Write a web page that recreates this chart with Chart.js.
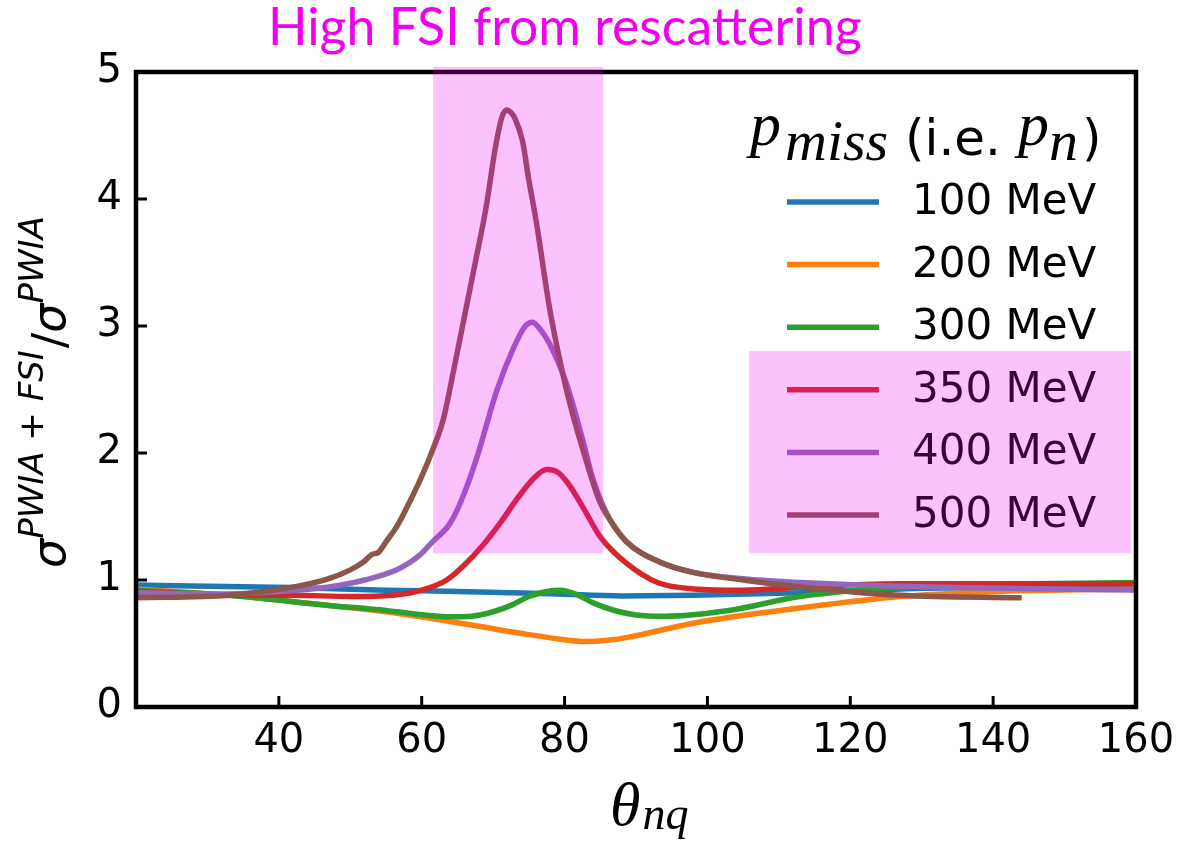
<!DOCTYPE html>
<html>
<head>
<meta charset="utf-8">
<script src="https://cdn.jsdelivr.net/npm/chart.js@4.4.1/dist/chart.umd.min.js"></script>
<style>
  html, body { margin: 0; padding: 0; background: #fff; overflow: hidden; }
  canvas { display: block; }
</style>
</head>
<body>
<canvas id="chart" width="1202" height="846"></canvas>
<script>
// p_miss series (theta_nq in degrees, ratio sigma(PWIA+FSI)/sigma(PWIA))
const labels = ['100 MeV', '200 MeV', '300 MeV', '350 MeV', '400 MeV', '500 MeV'];
const colors = ['#1f77b4', '#ff7f0e', '#2ca02c', '#d62728', '#9467bd', '#8c564b'];

const theta100 = [20, 30, 42, 55, 65, 72, 79, 88, 98, 113, 127, 145, 160];
const ratio100 = [0.96, 0.95, 0.94, 0.92, 0.91, 0.90, 0.89, 0.875, 0.88, 0.90, 0.93, 0.94, 0.94];

const theta200 = [20, 33, 47, 55, 61, 67, 75, 80, 83, 86, 89, 98, 113, 127, 141, 160];
const ratio200 = [0.93, 0.88, 0.80, 0.75, 0.70, 0.645, 0.57, 0.53, 0.515, 0.525, 0.55, 0.66, 0.78, 0.87, 0.91, 0.93];

const theta300 = [20, 33, 47, 55, 61, 64, 67, 70, 72.5, 75, 77.5, 79.5, 81.5, 84, 87, 90, 94, 103, 113, 127, 145, 160];
const ratio300 = [0.92, 0.88, 0.80, 0.76, 0.72, 0.71, 0.715, 0.75, 0.80, 0.87, 0.91, 0.92, 0.89, 0.82, 0.76, 0.725, 0.715, 0.76, 0.87, 0.94, 0.97, 0.98];

const theta350 = [20, 33, 42, 50, 56, 60, 63.5, 66, 68.5, 71, 73.5, 75.5, 77.5, 79, 80.5, 82.5, 85, 88.7, 93, 98, 105, 113, 127, 160];
const ratio350 = [0.91, 0.88, 0.88, 0.87, 0.88, 0.92, 1.0, 1.12, 1.27, 1.45, 1.65, 1.79, 1.87, 1.85, 1.76, 1.58, 1.34, 1.13, 0.98, 0.93, 0.92, 0.945, 0.97, 0.97];

const theta400 = [20, 33, 42.5, 47, 52, 56.5, 59.8, 61.5, 63.9, 65.5, 67.7, 70.5, 72.8, 74.5, 75.5, 76.5, 77.9, 80.3, 82.6, 84, 86.4, 88.7, 93.4, 98, 105, 113, 127, 160];
const ratio400 = [0.90, 0.89, 0.92, 0.945, 1.0, 1.08, 1.20, 1.30, 1.44, 1.62, 1.96, 2.49, 2.82, 3.0, 3.03, 2.98, 2.86, 2.54, 2.09, 1.79, 1.47, 1.30, 1.14, 1.06, 1.01, 0.98, 0.95, 0.92];

const theta500 = [20, 33, 42.5, 47, 50, 51.8, 53, 54, 55, 56.5, 58, 59.8, 61.5, 63, 64.5, 66, 67.5, 69, 70.3, 71.2, 71.9, 72.5, 73, 74.1, 75, 76.1, 77.9, 80.3, 82.6, 84.9, 86.4, 88.7, 93.4, 98, 105, 113, 127, 144];
const ratio500 = [0.86, 0.88, 0.95, 1.01, 1.08, 1.14, 1.20, 1.22, 1.30, 1.42, 1.58, 1.79, 2.02, 2.26, 2.66, 3.08, 3.50, 3.93, 4.40, 4.64, 4.70, 4.68, 4.64, 4.46, 4.15, 3.80, 3.14, 2.49, 2.02, 1.62, 1.47, 1.30, 1.14, 1.06, 1.0, 0.945, 0.88, 0.86];

const thetas = [theta100, theta200, theta300, theta350, theta400, theta500];
const ratios = [ratio100, ratio200, ratio300, ratio350, ratio400, ratio500];

const xTicks = [40, 60, 80, 100, 120, 140];
const yTicks = [1, 2, 3, 4];

const SANS = '"DejaVu Sans", sans-serif';
const SERIF = '"Liberation Serif", "DejaVu Serif", serif';
const PINK = 'rgba(240, 0, 245, 0.24)';

function drawRuns(ctx, x, y, runs) {
    let cx = x;
    runs.forEach(r => {
        ctx.font = r.font;
        const px = r.x !== undefined ? r.x : cx;
        ctx.fillText(r.text, px, y + (r.dy || 0));
        cx = px + ctx.measureText(r.text).width + (r.gap || 0);
    });
    return cx - x;
}

const decorations = {
    id: 'decorations',
    afterDatasetsDraw(chart) {
        const { ctx, chartArea: a, scales } = chart;
        const xs = scales.x, ys = scales.y;
        ctx.save();

        // frame
        ctx.strokeStyle = '#000';
        ctx.lineWidth = 4.5;
        ctx.strokeRect(a.left, a.top, a.right - a.left, a.bottom - a.top);

        // inward ticks
        ctx.lineWidth = 3;
        ctx.beginPath();
        xTicks.forEach(t => {
            const px = xs.getPixelForValue(t);
            ctx.moveTo(px, a.bottom);
            ctx.lineTo(px, a.bottom - 11);
        });
        yTicks.forEach(t => {
            const py = ys.getPixelForValue(t);
            ctx.moveTo(a.left, py);
            ctx.lineTo(a.left + 11, py);
        });
        ctx.stroke();

        // legend
        ctx.fillStyle = '#000';
        ctx.textBaseline = 'alphabetic';
        ctx.textAlign = 'left';
        drawRuns(ctx, 0, 0, [
            { text: 'p', font: 'italic 62px ' + SERIF, x: 750, dy: 145 },
            { text: 'miss', font: 'italic 58px ' + SERIF, x: 785, dy: 160 },
            { text: '(i.e.', font: '50px ' + SANS, x: 905, dy: 155 },
            { text: 'p', font: 'italic 62px ' + SERIF, x: 1018, dy: 145 },
            { text: 'n', font: 'italic 58px ' + SERIF, x: 1049, dy: 160 },
            { text: ')', font: '50px ' + SANS, x: 1082, dy: 155 }
        ]);
        chart.data.datasets.forEach((ds, i) => {
            const y = 202 + i * 62.6;
            ctx.strokeStyle = ds.borderColor;
            ctx.lineWidth = 5.5;
            ctx.beginPath();
            ctx.moveTo(787, y);
            ctx.lineTo(879, y);
            ctx.stroke();
            ctx.fillStyle = '#000';
            ctx.font = '42px ' + SANS;
            ctx.textBaseline = 'middle';
            ctx.fillText(ds.label, 912, y + 1);
        });

        // highlight boxes drawn over everything in the axes
        ctx.fillStyle = PINK;
        const x0 = xs.getPixelForValue(61.6), x1 = xs.getPixelForValue(85.4);
        const y0 = ys.getPixelForValue(5.04), y1 = ys.getPixelForValue(1.21);
        ctx.fillRect(x0, y0, x1 - x0, y1 - y0);
        ctx.fillRect(749, 351, 1131 - 749, 553 - 351);
        ctx.restore();
    },
    afterDraw(chart) {
        const { ctx } = chart;
        ctx.save();
        ctx.textBaseline = 'alphabetic';
        ctx.textAlign = 'left';

        // title
        ctx.fillStyle = '#f000f0';
        ctx.font = '46px Lato, sans-serif';
        const title = 'High FSI from rescattering';
        const w = ctx.measureText(title).width;
        const size = 46 * 594 / w;
        ctx.font = size.toFixed(1) + 'px Lato, sans-serif';
        ctx.fillText(title, 268, 45);

        // x axis label
        ctx.fillStyle = '#000';
        drawRuns(ctx, 610, 825, [
            { text: 'θ', font: 'italic 62px ' + SERIF, gap: 2 },
            { text: 'nq', font: 'italic 46px ' + SERIF, dy: 4 }
        ]);

        // y axis label
        ctx.translate(65, 568);
        ctx.rotate(-Math.PI / 2);
        drawRuns(ctx, 0, 0, [
            { text: 'σ', font: 'italic 46px ' + SANS },
            { text: 'PWIA + FSI', font: 'italic 34px ' + SANS, dy: -22, gap: 2 },
            { text: '/', font: '46px ' + SANS },
            { text: 'σ', font: 'italic 46px ' + SANS },
            { text: 'PWIA', font: 'italic 34px ' + SANS, dy: -22 }
        ]);
        ctx.restore();
    }
};

const datasets = labels.map((label, i) => ({
    label: label,
    data: thetas[i].map((t, j) => ({ x: t, y: ratios[i][j] })),
    borderColor: colors[i],
    backgroundColor: colors[i],
    borderWidth: 5.5,
    pointRadius: 0,
    fill: false,
    cubicInterpolationMode: 'monotone',
    order: labels.length - i
}));

new Chart(document.getElementById('chart').getContext('2d'), {
    type: 'line',
    data: { datasets },
    options: {
        responsive: false,
        devicePixelRatio: 1,
        animation: false,
        layout: { padding: { top: 72, right: 66, bottom: 0, left: 0 } },
        plugins: {
            legend: { display: false },
            tooltip: { enabled: false },
            title: { display: false }
        },
        scales: {
            x: {
                type: 'linear',
                min: 20,
                max: 160,
                grid: { display: false, drawTicks: false },
                border: { display: false },
                ticks: {
                    stepSize: 20,
                    padding: 11,
                    color: '#000',
                    font: { family: 'DejaVu Sans', size: 40 },
                    maxRotation: 0,
                    callback: v => (v === 20 ? '' : v)
                },
                afterFit: s => { s.height = 139; }
            },
            y: {
                type: 'linear',
                min: 0,
                max: 5,
                grid: { display: false, drawTicks: false },
                border: { display: false },
                ticks: {
                    stepSize: 1,
                    padding: 14,
                    color: '#000',
                    font: { family: 'DejaVu Sans', size: 40 }
                },
                afterFit: s => { s.width = 136; }
            }
        }
    },
    plugins: [decorations]
});
</script>
</body>
</html>
